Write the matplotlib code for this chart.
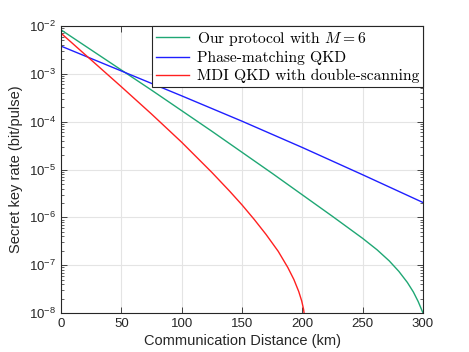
import numpy as np
import matplotlib
matplotlib.use('Agg')
import matplotlib.pyplot as plt

# Values (log10 of key rate)
dist_ours = [0, 25, 50, 75, 100, 125, 150, 175, 200, 225, 250, 262, 272, 280, 287, 292, 296, 298.5, 300]
logr_ours = [-2.08, -2.50, -2.92, -3.34, -3.77, -4.20, -4.64, -5.08, -5.53, -5.98, -6.44,
             -6.68, -6.91, -7.13, -7.36, -7.56, -7.76, -7.91, -8.0]

dist_pm = [0, 50, 100, 150, 200, 250, 300]
logr_pm = [-2.42, -2.94, -3.46, -3.99, -4.54, -5.11, -5.69]

dist_mdi = [0, 25, 50, 75, 100, 125, 140, 150, 160, 170, 180, 188, 193, 197, 199.5, 201, 202]
logr_mdi = [-2.15, -2.71, -3.27, -3.84, -4.43, -5.06, -5.46, -5.74, -6.04, -6.36, -6.71,
            -7.05, -7.30, -7.55, -7.75, -7.92, -8.1]

labels = ['Our protocol with $M=6$', 'Phase-matching QKD', 'MDI QKD with double-scanning']
colors = ['#1fa774', '#1f1fff', '#ff2020']

plt.rcParams['font.family'] = ['Liberation Sans', 'DejaVu Sans']
plt.rcParams['mathtext.fontset'] = 'cm'

axcol = '#262626'
fig = plt.figure(figsize=(4.69, 3.52), dpi=100)
ax = fig.add_axes([61 / 469, 1 - 313 / 352, 362 / 469, 287 / 352])

series = [(dist_ours, logr_ours), (dist_pm, logr_pm), (dist_mdi, logr_mdi)]
for (d, lr), lab, c in zip(series, labels, colors):
    ax.semilogy(d, 10.0 ** np.array(lr), color=c, lw=1.0, label=lab)

ax.set_xlim(0, 300)
ax.set_ylim(1e-8, 1e-2)
ax.set_xticks([0, 50, 100, 150, 200, 250, 300])
ax.set_yticks([1e-8, 1e-7, 1e-6, 1e-5, 1e-4, 1e-3, 1e-2])
ax.grid(True, which='major', color='#e4e4e4', lw=0.8)
ax.set_axisbelow(True)
ax.tick_params(which='both', direction='in', top=True, right=True, colors=axcol,
               labelsize=9.5)
ax.tick_params(which='major', length=4, width=0.6)
ax.tick_params(which='minor', length=2, width=0.5)
for s in ax.spines.values():
    s.set_color(axcol)
    s.set_linewidth(0.8)

ax.set_xlabel('Communication Distance (km)', fontsize=10.5, color=axcol, labelpad=3)
ax.set_ylabel('Secret key rate (bit/pulse)', fontsize=10.5, color=axcol, labelpad=4)

leg = ax.legend(loc='upper right', borderaxespad=0, fancybox=False, framealpha=1,
                edgecolor=axcol, handlelength=2.1, handletextpad=0.5,
                labelspacing=0.22, borderpad=0.25,
                prop={'family': 'cmr10', 'size': 11.2})
leg.get_frame().set_linewidth(0.8)

fig.savefig('out.png', dpi=100)
